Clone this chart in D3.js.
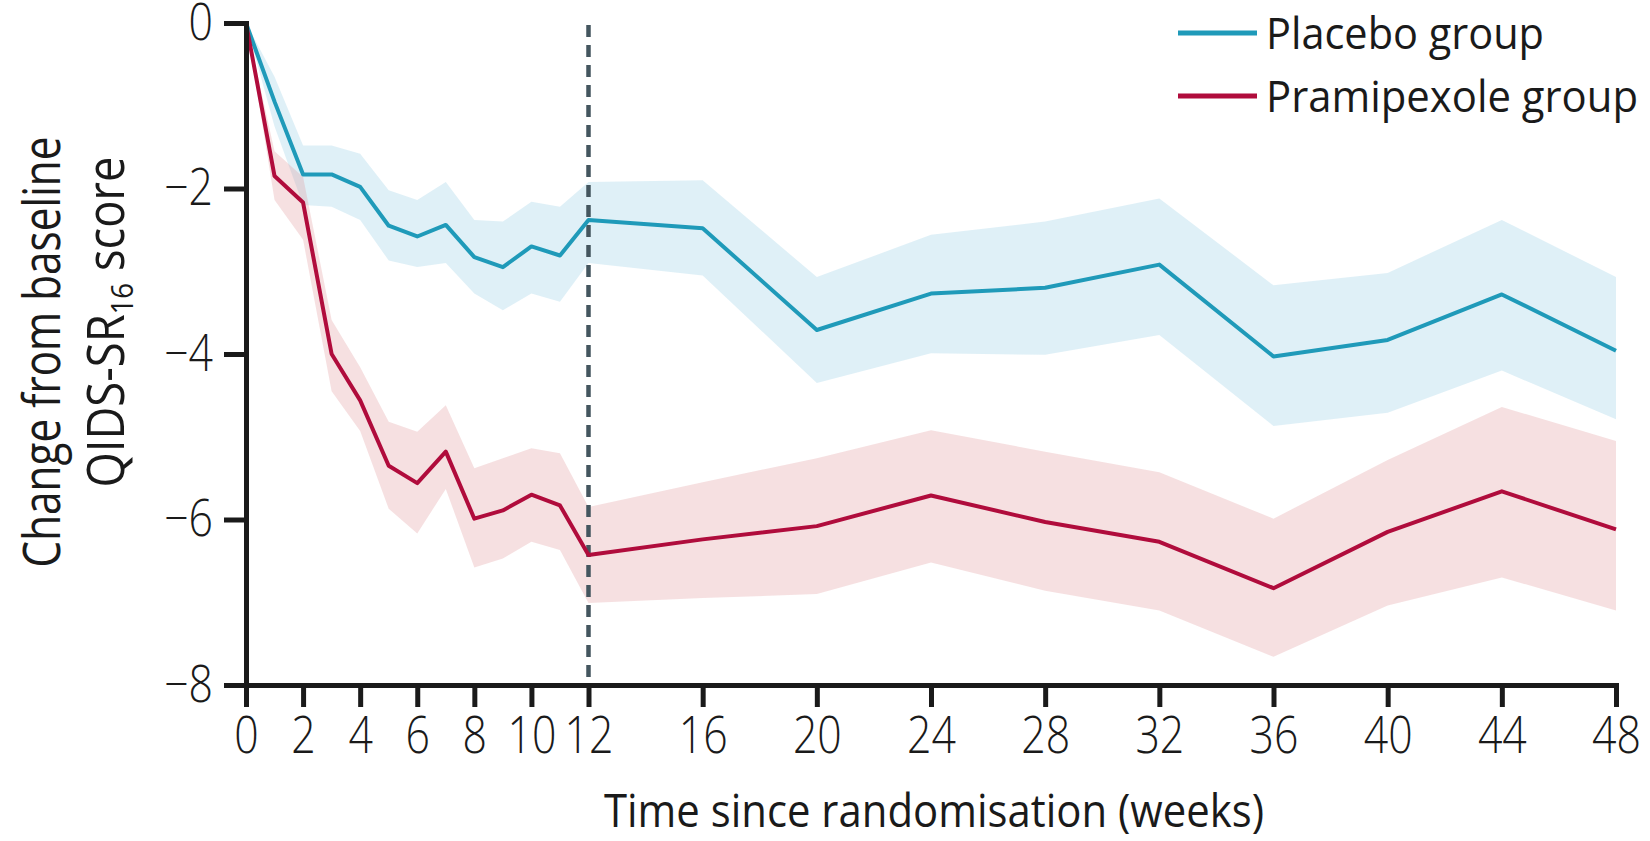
<!DOCTYPE html>
<html>
<head>
<meta charset="utf-8">
<script src="https://cdn.jsdelivr.net/npm/d3@7"></script>
<style>
  body { margin: 0; background: #fff; }
  svg { display: block; }
</style>
</head>
<body>
<svg id="chart" width="1650" height="841"></svg>
<script>
// weeks and values
var placeboWeeks = [0, 1, 2, 3, 4, 5, 6, 7, 8, 9, 10, 11, 12, 16, 20, 24, 28, 32, 36, 40, 44, 48]
var placeboMean  = [0, -0.95, -1.83, -1.83, -1.98, -2.45, -2.58, -2.44, -2.83, -2.95, -2.70, -2.81, -2.38, -2.48, -3.71, -3.27, -3.20, -2.92, -4.03, -3.83, -3.28, -3.96]
var placeboHi    = [0, -0.65, -1.48, -1.48, -1.58, -2.02, -2.14, -1.92, -2.38, -2.40, -2.16, -2.22, -1.92, -1.90, -3.07, -2.56, -2.40, -2.12, -3.17, -3.02, -2.38, -3.07]
var placeboLo    = [0, -1.25, -2.20, -2.22, -2.38, -2.87, -2.95, -2.90, -3.27, -3.47, -3.27, -3.37, -2.90, -3.05, -4.35, -3.99, -4.01, -3.77, -4.87, -4.71, -4.20, -4.79]

var pramiWeeks = [0, 1, 2, 3, 4, 5, 6, 7, 8, 9, 10, 11, 12, 16, 20, 24, 28, 32, 36, 40, 44, 48]
var pramiMean  = [0, -1.85, -2.17, -4.00, -4.56, -5.35, -5.56, -5.18, -5.99, -5.89, -5.70, -5.83, -6.43, -6.24, -6.08, -5.71, -6.03, -6.27, -6.83, -6.15, -5.66, -6.12]
var pramiHi    = [0, -1.55, -1.86, -3.59, -4.16, -4.82, -4.94, -4.62, -5.38, -5.26, -5.14, -5.20, -5.85, -5.55, -5.26, -4.92, -5.18, -5.43, -5.99, -5.28, -4.64, -5.05]
var pramiLo    = [0, -2.14, -2.62, -4.45, -4.93, -5.87, -6.17, -5.63, -6.58, -6.47, -6.27, -6.37, -7.01, -6.95, -6.90, -6.52, -6.86, -7.10, -7.66, -7.04, -6.70, -7.10]

var xTicks = [0, 2, 4, 6, 8, 10, 12, 16, 20, 24, 28, 32, 36, 40, 44, 48]
var yTicks = [0, -2, -4, -6, -8]
var seriesNames = ["Placebo group", "Pramipexole group"]
var cutoffWeek = 12

var teal = "#1f9ab9", red = "#b00c3c", ink = "#1a1a1a"

var svg = d3.select("#chart")

var x = d3.scaleLinear().domain([0, 48]).range([246, 1616])
var y = d3.scaleLinear().domain([-8, 0]).range([685, 23])

function rows(weeks, mean, hi, lo) {
  return weeks.map(function(w, i) { return {w: w, m: mean[i], hi: hi[i], lo: lo[i]} })
}
var placebo = rows(placeboWeeks, placeboMean, placeboHi, placeboLo)
var prami = rows(pramiWeeks, pramiMean, pramiHi, pramiLo)

var area = d3.area().x(function(d) { return x(d.w) })
  .y0(function(d) { return y(d.lo) }).y1(function(d) { return y(d.hi) })
var line = d3.line().x(function(d) { return x(d.w) }).y(function(d) { return y(d.m) })

// *********** BANDS ***************** //
svg.append("path").datum(placebo).attr("d", area)
  .attr("fill", "#94cde4").attr("fill-opacity", 0.3)
svg.append("path").datum(prami).attr("d", area)
  .attr("fill", "#e1989b").attr("fill-opacity", 0.3)

// dashed line at end of acute phase
svg.append("line")
  .attr("x1", x(cutoffWeek)).attr("x2", x(cutoffWeek))
  .attr("y1", y(0) + 2).attr("y2", y(-8))
  .attr("stroke", "#44565f")
  .attr("stroke-width", 4.5)
  .attr("stroke-dasharray", "12 8")

// *********** LINES ***************** //
svg.append("path").datum(placebo).attr("d", line)
  .attr("fill", "none").attr("stroke", teal).attr("stroke-width", 4)
  .attr("stroke-linejoin", "round")
svg.append("path").datum(prami).attr("d", line)
  .attr("fill", "none").attr("stroke", red).attr("stroke-width", 4)
  .attr("stroke-linejoin", "round")

// *********** AXES ***************** //
var font = "Open Sans, sans-serif"

var yAxis = svg.append("g")
  .attr("transform", "translate(" + x(0) + ",0)")
  .call(d3.axisLeft(y).tickValues(yTicks).tickSize(22).tickSizeOuter(0).tickPadding(11)
    .tickFormat(function(d) { return d < 0 ? "\u2212" + Math.abs(d) : d }))

var xAxis = svg.append("g")
  .attr("transform", "translate(0," + y(-8) + ")")
  .call(d3.axisBottom(x).tickValues(xTicks).tickSize(22).tickSizeOuter(0).tickPadding(10))

;[yAxis, xAxis].forEach(function(g) {
  g.select(".domain").attr("stroke", ink).attr("stroke-width", 5).attr("stroke-linecap", "square")
  g.selectAll(".tick line").attr("stroke", ink).attr("stroke-width", 5)
  g.selectAll(".tick text")
    .style("font-family", font)
    .style("font-weight", 300)
    .style("font-size", "51px")
    .attr("fill", ink)
    .each(function() {
      // narrower figures, like the condensed face of the original
      var w = this.getComputedTextLength()
      d3.select(this).attr("textLength", w * 0.84).attr("lengthAdjust", "spacingAndGlyphs")
    })
})

// text squeezed to a measured width
function addText(str, size, width, anchor) {
  var t = svg.append("text")
    .attr("text-anchor", anchor)
    .style("font-family", font)
    .style("font-weight", 400)
    .style("font-size", size + "px")
    .attr("fill", ink)
    .text(str)
  t.attr("textLength", width).attr("lengthAdjust", "spacingAndGlyphs")
  return t
}

// *********** TITLES ***************** //
addText("Time since randomisation (weeks)", 45, 660, "middle")
  .attr("x", 934).attr("y", 827)

addText("Change from baseline", 51, 431, "middle")
  .attr("transform", "translate(60,352) rotate(-90)")

var yTitle2 = svg.append("text")
  .attr("text-anchor", "middle")
  .attr("transform", "translate(124,322) rotate(-90)")
  .style("font-family", font)
  .style("font-weight", 400)
  .style("font-size", "51px")
  .attr("fill", ink)
  .attr("textLength", 331).attr("lengthAdjust", "spacingAndGlyphs")
yTitle2.append("tspan").text("QIDS-SR")
yTitle2.append("tspan").attr("dy", 9).style("font-size", "31px").text("16")
yTitle2.append("tspan").attr("dy", -9).text(" score")

// *********** LEGEND ***************** //
var legendRows = [
  {name: seriesNames[0], color: teal, y: 33, base: 49, width: 278},
  {name: seriesNames[1], color: red, y: 96, base: 112, width: 372}
]
legendRows.forEach(function(r) {
  svg.append("line")
    .attr("x1", 1178).attr("x2", 1257)
    .attr("y1", r.y).attr("y2", r.y)
    .attr("stroke", r.color).attr("stroke-width", 5)
  addText(r.name, 43, r.width, "start")
    .attr("x", 1266).attr("y", r.base)
})
</script>
</body>
</html>
